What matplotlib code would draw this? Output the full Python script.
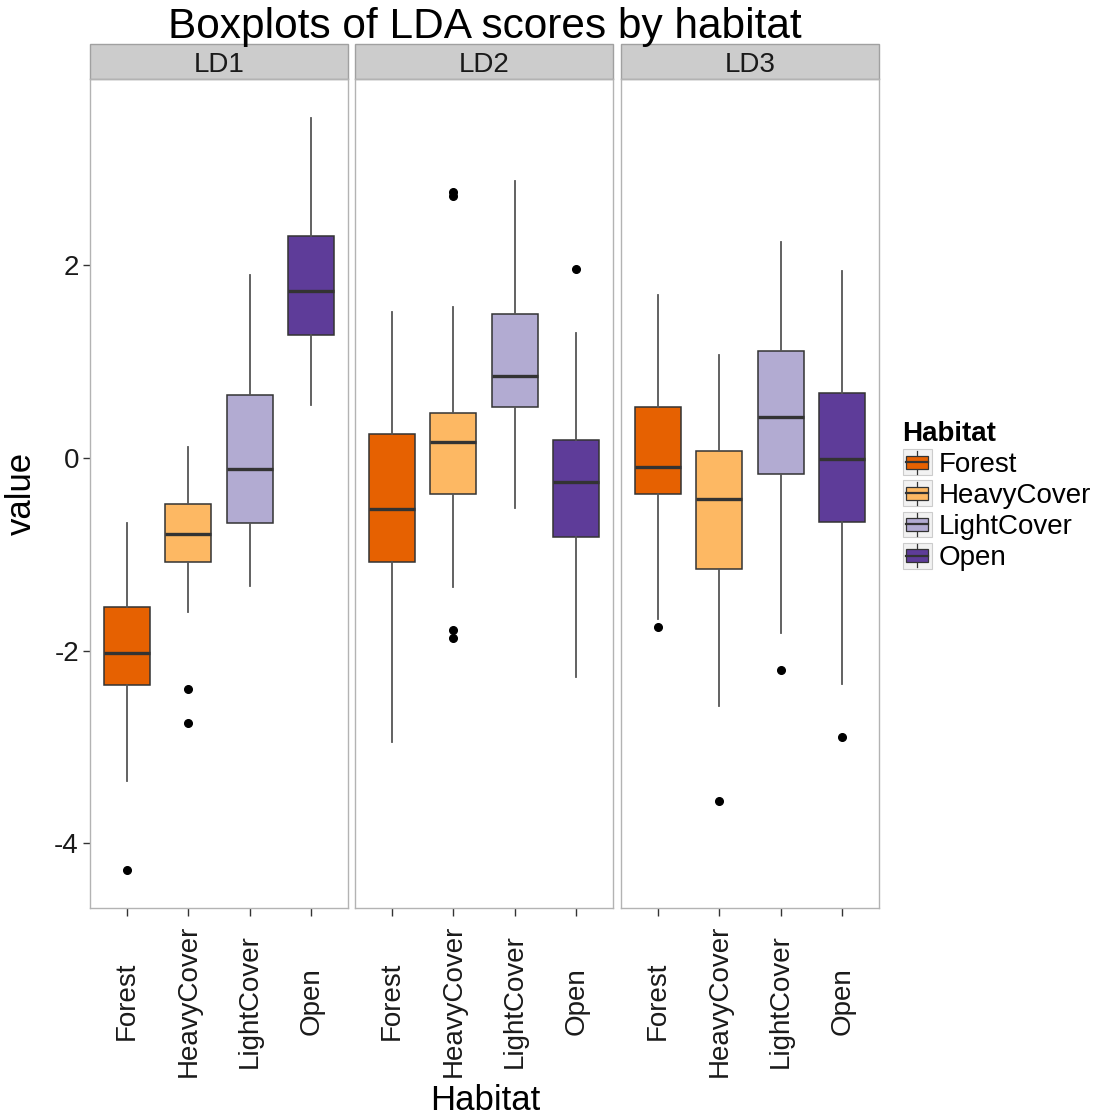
import matplotlib
matplotlib.use("Agg")
import matplotlib.pyplot as plt
from matplotlib.patches import Rectangle, Patch
from matplotlib.lines import Line2D
from matplotlib.legend_handler import HandlerBase

plt.rcParams['font.family'] = ['Liberation Sans', 'DejaVu Sans']

# habitat groups and LDA panels
habitats = ["Forest", "HeavyCover", "LightCover", "Open"]
panels = ["LD1", "LD2", "LD3"]
fills = ["#E66101", "#FDB863", "#B2ABD2", "#5E3C99"]

# five-number summaries per panel (one value per habitat)
ld1_whislo = [-3.35, -1.60, -1.33, 0.55]
ld1_q1 = [-2.36, -1.08, -0.68, 1.27]
ld1_med = [-2.02, -0.79, -0.12, 1.73]
ld1_q3 = [-1.55, -0.48, 0.65, 2.30]
ld1_whishi = [-0.68, 0.11, 1.90, 3.53]
ld1_out = [[-4.28], [-2.40, -2.75], [], []]

ld2_whislo = [-2.95, -1.34, -0.52, -2.27]
ld2_q1 = [-1.08, -0.38, 0.53, -0.82]
ld2_med = [-0.53, 0.16, 0.85, -0.25]
ld2_q3 = [0.25, 0.46, 1.49, 0.19]
ld2_whishi = [1.51, 1.56, 2.87, 1.30]
ld2_out = [[], [2.76, 2.72, -1.79, -1.87], [], [1.96]]

ld3_whislo = [-1.67, -2.57, -1.82, -2.35]
ld3_q1 = [-0.37, -1.15, -0.17, -0.67]
ld3_med = [-0.09, -0.43, 0.42, -0.01]
ld3_q3 = [0.53, 0.07, 1.11, 0.67]
ld3_whishi = [1.69, 1.07, 2.24, 1.94]
ld3_out = [[-1.76], [-3.56], [-2.20], [-2.90]]

panel_data = [
    (ld1_whislo, ld1_q1, ld1_med, ld1_q3, ld1_whishi, ld1_out),
    (ld2_whislo, ld2_q1, ld2_med, ld2_q3, ld2_whishi, ld2_out),
    (ld3_whislo, ld3_q1, ld3_med, ld3_q3, ld3_whishi, ld3_out),
]

W, H = 1103, 1118
fig = plt.figure(figsize=(W / 100, H / 100), dpi=100)

edge = "#333333"
lefts = [90, 355, 621]
pw = 258
top, bot = 79, 908
strip_h = 35

axes = []
for i, (name, d) in enumerate(zip(panels, panel_data)):
    ax = fig.add_axes([lefts[i] / W, (H - bot) / H, pw / W, (bot - top) / H])
    axes.append(ax)
    whislo, q1, med, q3, whishi, out = d
    stats = []
    for j in range(len(habitats)):
        stats.append(dict(whislo=whislo[j], q1=q1[j], med=med[j], q3=q3[j],
                          whishi=whishi[j], fliers=out[j], label=habitats[j]))
    bp = ax.bxp(stats, positions=range(1, 5), widths=0.75, patch_artist=True,
                showcaps=False,
                boxprops=dict(edgecolor=edge, linewidth=1.1),
                medianprops=dict(color=edge, linewidth=2.4, solid_capstyle='butt'),
                whiskerprops=dict(color="#555555", linewidth=1.3),
                flierprops=dict(marker='o', markerfacecolor='black',
                                markeredgecolor='black', markersize=5.5))
    for patch, c in zip(bp['boxes'], fills):
        patch.set_facecolor(c)

    ax.set_xlim(0.4, 4.6)
    ax.set_ylim(-4.67, 3.93)
    ax.set_xticks(range(1, 5))
    ax.set_xticklabels(habitats, rotation=90, va='center', ha='center',
                       fontsize=20, color='#1a1a1a')
    ax.tick_params(axis='x', length=6, width=1, color='#333333', pad=61)
    for s in ax.spines.values():
        s.set_color('#b3b3b3')
        s.set_linewidth(1.0)
    if i == 0:
        ax.set_yticks([-4, -2, 0, 2])
        ax.set_yticklabels(["-4", "-2", "0", "2"], fontsize=20, color='#1a1a1a')
        ax.tick_params(axis='y', length=5, width=1, color='#333333', pad=3)
        ax.set_ylabel("value", fontsize=25, labelpad=12)
    else:
        ax.set_yticks([])

    # facet strip
    sh = strip_h / (bot - top)
    ax.add_patch(Rectangle((0, 1), 1, sh, transform=ax.transAxes, clip_on=False,
                           facecolor='#cccccc', edgecolor='#a0a0a0', linewidth=1.0))
    ax.text(0.5, 1 + sh / 2, name, transform=ax.transAxes, ha='center',
            va='center_baseline', fontsize=20, color='#1a1a1a')

fig.text(485 / W, 1 - 1100 / H, "Habitat", ha='center', va='center', fontsize=25)
fig.text(485 / W, 1 - 27 / H, "Boxplots of LDA scores by habitat", ha='center',
         va='center', fontsize=30.5)


class BoxKey(HandlerBase):
    def create_artists(self, legend, orig_handle, xdescent, ydescent, width, height,
                       fontsize, trans):
        fc = orig_handle.get_facecolor()
        x0, y0 = -xdescent, -ydescent
        bg = Rectangle((x0, y0), width, height, facecolor='#f2f2f2',
                       edgecolor='#cccccc', lw=0.8, transform=trans)
        wl = Line2D([x0 + width / 2] * 2, [y0 + 1, y0 + height - 1], color=edge,
                    lw=0.9, transform=trans)
        bx = Rectangle((x0 + width * 0.12, y0 + height * 0.25), width * 0.76,
                       height * 0.5, facecolor=fc, edgecolor=edge, lw=0.9,
                       transform=trans)
        md = Line2D([x0 + width * 0.12, x0 + width * 0.88], [y0 + height / 2] * 2,
                    color=edge, lw=1.6, transform=trans)
        return [bg, wl, bx, md]


handles = [Patch(facecolor=c) for c in fills]
leg = fig.legend(handles, habitats, loc='upper left',
                 bbox_to_anchor=(897 / W, 1 - 415 / H), frameon=False,
                 fontsize=20, title="Habitat",
                 title_fontproperties=dict(size=20, weight='bold'),
                 handler_map={Patch: BoxKey()}, handlelength=1.05,
                 handleheight=1.05, handletextpad=0.25, labelspacing=0.1,
                 alignment='left', borderaxespad=0, borderpad=0.2)

fig.savefig("out.png", dpi=100)
